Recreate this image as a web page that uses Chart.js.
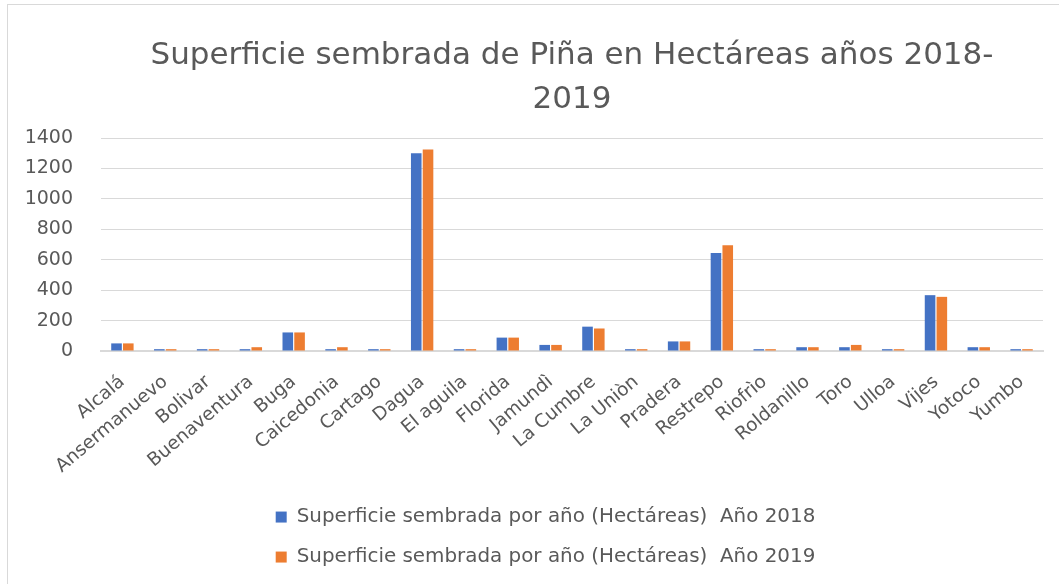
<!DOCTYPE html>
<html>
<head>
<meta charset="utf-8">
<script src="https://cdn.jsdelivr.net/npm/chart.js@4"></script>
<style>
  html, body { margin: 0; padding: 0; background: #ffffff; overflow: hidden; width: 1059px; height: 584px; }
  #frame { position: absolute; left: 7px; top: 4px; width: 1070px; height: 600px; border: 1px solid #d9d9d9; box-sizing: border-box; }
  #box { position: absolute; left: 8px; top: 5px; width: 1051px; height: 579px; }
</style>
</head>
<body>
<div id="frame"></div>
<div id="box"><canvas id="c"></canvas></div>
<script>
const categories = ['Alcalá', 'Ansermanuevo', 'Bolivar', 'Buenaventura', 'Buga', 'Caicedonia', 'Cartago', 'Dagua', 'El aguila', 'Florida', 'Jamundì', 'La Cumbre', 'La Uniòn', 'Pradera', 'Restrepo', 'Riofrìo', 'Roldanillo', 'Toro', 'Ulloa', 'Vijes', 'Yotoco', 'Yumbo'];
const values2018 = [50, 12, 12, 12, 122, 12, 12, 1300, 12, 88, 40, 160, 12, 63, 645, 12, 25, 25, 12, 367, 25, 12];
const values2019 = [50, 12, 12, 25, 122, 25, 12, 1325, 12, 88, 40, 148, 12, 63, 695, 12, 25, 40, 12, 356, 25, 12];
const seriesLabels = ['Superficie sembrada por año (Hectáreas)  Año 2018', 'Superficie sembrada por año (Hectáreas)  Año 2019'];
const titleLines = ['Superficie sembrada de Piña en Hectáreas años 2018-', '2019'];
const yTicks = [0, 200, 400, 600, 800, 1000, 1200, 1400];

const textColor = '#595959';
const gridColor = '#d9d9d9';
const fontFamily = '"DejaVu Sans", "Open Sans", sans-serif';

// Shift the legend block slightly right, as in the original layout
const legendShift = {
  id: 'legendShift',
  afterLayout(chart) {
    if (chart.legend) { chart.legend.left += 40; }
  }
};

new Chart(document.getElementById('c'), {
  type: 'bar',
  data: {
    labels: categories,
    datasets: [
      { label: seriesLabels[0], data: values2018, backgroundColor: '#4472C4', categoryPercentage: 0.55, barPercentage: 0.9 },
      { label: seriesLabels[1], data: values2019, backgroundColor: '#ED7D31', categoryPercentage: 0.55, barPercentage: 0.9 }
    ]
  },
  plugins: [legendShift],
  options: {
    responsive: true,
    maintainAspectRatio: false,
    animation: false,
    layout: { padding: { top: 0, right: 16, bottom: 7, left: 0 } },
    plugins: {
      title: {
        display: true,
        fullSize: false,
        text: titleLines,
        color: textColor,
        font: { family: fontFamily, size: 31, weight: 'normal', lineHeight: 1.42 },
        padding: { top: 29, bottom: 16 }
      },
      legend: {
        position: 'bottom',
        labels: {
          color: textColor,
          font: { family: fontFamily, size: 19.9 },
          boxWidth: 11,
          boxHeight: 11,
          padding: 20.1
        }
      },
      tooltip: { enabled: false }
    },
    scales: {
      x: {
        grid: { display: false },
        border: { display: true, color: gridColor, width: 2 },
        ticks: {
          autoSkip: false,
          minRotation: 40,
          maxRotation: 40,
          color: textColor,
          font: { family: fontFamily, size: 18.5 },
          padding: 12
        },
        afterFit: (scale) => { scale.height = 136; }
      },
      y: {
        min: 0,
        max: 1400,
        afterBuildTicks: (scale) => { scale.ticks = yTicks.map(v => ({ value: v })); },
        grid: { color: gridColor, drawTicks: false, lineWidth: 1 },
        border: { display: false },
        ticks: {
          color: textColor,
          font: { family: fontFamily, size: 19 },
          padding: 28,
          callback: (v) => String(v)
        },
        afterFit: (scale) => { scale.width = 93; }
      }
    }
  }
});
</script>
</body>
</html>
